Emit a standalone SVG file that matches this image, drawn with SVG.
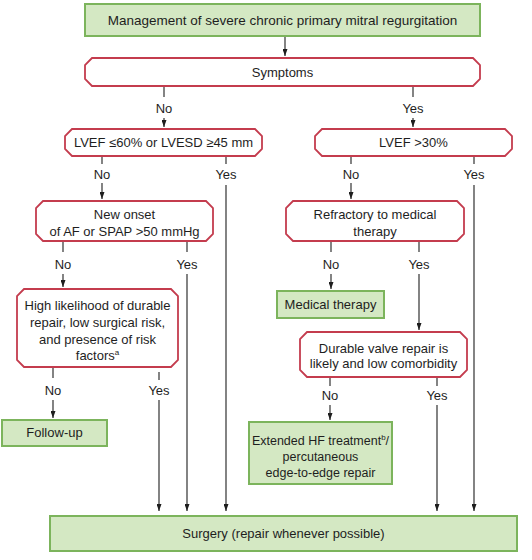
<svg xmlns="http://www.w3.org/2000/svg" width="532" height="560" viewBox="0 0 532 560">
<style>
.g{fill:#d4e8c3;stroke:#7cb45c;stroke-width:2}
.r{fill:#fff;stroke:#c43c4e;stroke-width:1.8}
text{font-family:"Liberation Sans",Arial,sans-serif;font-size:13px;fill:#1e1e1e;text-anchor:middle}
.c{stroke:#1e1e1e;stroke-width:1.1;fill:none}
.a{marker-end:url(#ah)}
</style>
<defs>
<marker id="ah" markerUnits="userSpaceOnUse" markerWidth="7" markerHeight="5" viewBox="0 0 7 5" refX="7" refY="2.5" orient="auto">
<path d="M0,0 L7,2.5 L0,5 Z" fill="#1e1e1e"/>
</marker>
</defs>
<rect width="532" height="560" fill="#fff"/>

<g id="connectors">
<path class="c a" d="M285,36 V56"/>
<path class="c" d="M164,86 V97"/><path class="c a" d="M164,118 V127"/>
<path class="c" d="M413,86 V97"/><path class="c a" d="M413,118 V127"/>
<path class="c" d="M102,156 V164"/><path class="c a" d="M102,183 V199"/>
<path class="c" d="M226,156 V164"/><path class="c a" d="M226,185 V511"/>
<path class="c" d="M351,156 V164"/><path class="c a" d="M351,183 V199"/>
<path class="c" d="M474,156 V164"/><path class="c a" d="M474,185 V511"/>
<path class="c" d="M63,241 V252"/><path class="c a" d="M63,274 V287"/>
<path class="c" d="M187,241 V252"/><path class="c a" d="M187,274 V511"/>
<path class="c" d="M331,241 V252"/><path class="c a" d="M331,274 V289"/>
<path class="c" d="M419,241 V252"/><path class="c a" d="M419,274 V330"/>
<path class="c" d="M53,367 V378"/><path class="c a" d="M53,400 V418"/>
<path class="c" d="M159,372 V380"/><path class="c a" d="M159,400 V511"/>
<path class="c" d="M330,377 V386"/><path class="c a" d="M330,405 V420"/>
<path class="c" d="M437,378 V386"/><path class="c a" d="M437,405 V511"/>
<g id="labels">
<text x="164" y="112.5">No</text><text x="413" y="112.5">Yes</text>
<text x="102" y="178.5">No</text><text x="226" y="178.5">Yes</text>
<text x="351" y="178.5">No</text><text x="474" y="178.5">Yes</text>
<text x="63" y="268.5">No</text><text x="187" y="268.5">Yes</text>
<text x="331" y="268.5">No</text><text x="419" y="268.5">Yes</text>
<text x="53" y="394.5">No</text><text x="159" y="394.5">Yes</text>
<text x="330" y="400">No</text><text x="437" y="400">Yes</text>
</g>
</g>

<g id="title"><rect class="g" x="85" y="4" width="395" height="32"/><text x="282.5" y="25" style="font-size:13.5px">Management of severe chronic primary mitral regurgitation</text></g>
<g id="symptoms"><path class="r" d="M92,58 H473 L480,65 V79 L473,86 H92 L85,79 V65 Z"/><text x="282.5" y="77">Symptoms</text></g>
<g id="lvef60"><path class="r" d="M72,129 H255 L262,136 V149 L255,156 H72 L65,149 V136 Z"/><text x="163.5" y="147">LVEF ≤60% or LVESD ≥45 mm</text></g>
<g id="lvef30"><path class="r" d="M322,129 H505 L512,136 V149 L505,156 H322 L315,149 V136 Z"/><text x="413.5" y="147">LVEF &gt;30%</text></g>
<g id="newonset"><path class="r" d="M43,201 H206 L213,208 V234 L206,241 H43 L36,234 V208 Z"/><text x="124.5" y="218.5">New onset</text><text x="124.5" y="235.5">of AF or SPAP &gt;50 mmHg</text></g>
<g id="refractory"><path class="r" d="M293,201 H457 L464,208 V234 L457,241 H293 L286,234 V208 Z"/><text x="375" y="218.5">Refractory to medical</text><text x="375" y="235.5">therapy</text></g>
<g id="medical"><rect class="g" x="277" y="291" width="107" height="27"/><text x="330.5" y="309">Medical therapy</text></g>
<g id="highlikelihood"><path class="r" d="M24,289 H171 L178,296 V360 L171,367 H24 L17,360 V296 Z"/><text x="97.5" y="309.5">High likelihood of durable</text><text x="97.5" y="326.5">repair, low surgical risk,</text><text x="97.5" y="343.5">and presence of risk</text><text x="97.5" y="359.5">factors<tspan font-size="8" dy="-5">a</tspan></text></g>
<g id="durable"><path class="r" d="M307,332 H460 L467,339 V370 L460,377 H307 L300,370 V339 Z"/><text x="383.5" y="352.5">Durable valve repair is</text><text x="383.5" y="367.5">likely and low comorbidity</text></g>
<g id="followup"><rect class="g" x="2" y="420" width="105" height="26"/><text x="54.5" y="437">Follow-up</text></g>
<g id="extended"><rect class="g" x="249" y="422" width="143" height="62"/><text x="320.5" y="444.5" style="font-size:12.5px">Extended HF treatment<tspan font-size="8" dy="-5">b</tspan><tspan dy="5">/</tspan></text><text x="320.5" y="460.5" style="font-size:12.5px">percutaneous</text><text x="320.5" y="476.5" style="font-size:12.5px">edge-to-edge repair</text></g>
<g id="surgery"><rect class="g" x="50" y="516" width="467" height="35"/><text x="283.5" y="538">Surgery (repair whenever possible)</text></g>
</svg>
